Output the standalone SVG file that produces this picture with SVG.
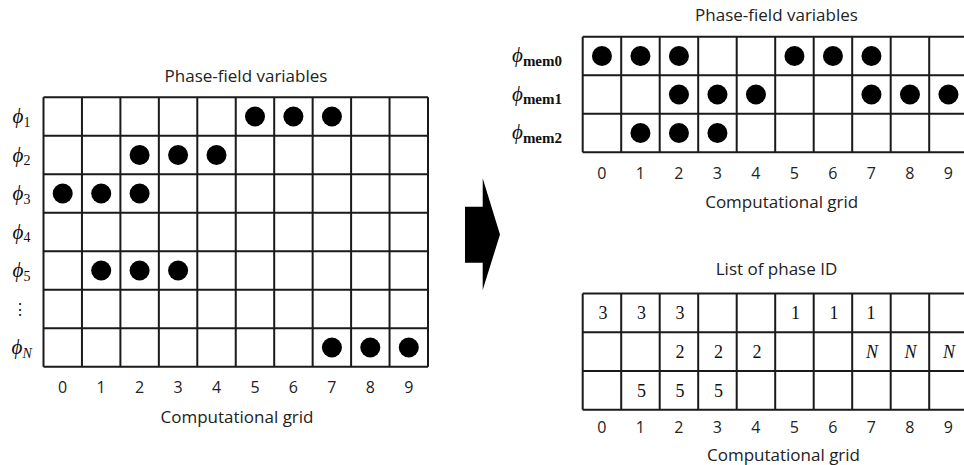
<svg xmlns="http://www.w3.org/2000/svg" width="964" height="465" viewBox="0 0 964 465">
<style>
.bg{fill:#fff}
.grid{fill:none;stroke:#1a1a1a;stroke-width:2}
.dot{fill:#000}
.lbl{font-family:"Open Sans","Liberation Sans",sans-serif;font-size:17px;fill:#222}
.num{font-family:"Open Sans","Liberation Sans",sans-serif;font-size:16px;fill:#222;text-anchor:middle}
.phi{font-family:"Liberation Serif","DejaVu Serif",serif;font-style:italic;font-size:21px;fill:#111}
.sub{font-family:"Liberation Serif","DejaVu Serif",serif;font-style:normal;font-size:14px}
.subb{font-family:"Liberation Serif","DejaVu Serif",serif;font-style:normal;font-weight:bold;font-size:15px}
.cell{font-family:"Liberation Serif","DejaVu Serif",serif;font-size:18px;fill:#111;text-anchor:middle}
.it{font-style:italic}
</style>
<rect class="bg" x="0" y="0" width="964" height="465"/>

<g id="left-grid">
<text class="lbl" x="246" y="81.5" text-anchor="middle">Phase-field variables</text>
<path class="grid" d="M43.5 97.3V366.8M81.95 97.3V366.8M120.4 97.3V366.8M158.85 97.3V366.8M197.3 97.3V366.8M235.75 97.3V366.8M274.2 97.3V366.8M312.65 97.3V366.8M351.1 97.3V366.8M389.55 97.3V366.8M428 97.3V366.8M43.5 97.3H428M43.5 135.8H428M43.5 174.3H428M43.5 212.8H428M43.5 251.3H428M43.5 289.8H428M43.5 328.3H428M43.5 366.8H428"/>
<text class="phi" x="12.5" y="123">ϕ<tspan class="sub" dy="3.5">1</tspan></text>
<text class="phi" x="12.5" y="161.5">ϕ<tspan class="sub" dy="3.5">2</tspan></text>
<text class="phi" x="12.5" y="200">ϕ<tspan class="sub" dy="3.5">3</tspan></text>
<text class="phi" x="12.5" y="238.5">ϕ<tspan class="sub" dy="3.5">4</tspan></text>
<text class="phi" x="12.5" y="277">ϕ<tspan class="sub" dy="3.5">5</tspan></text>
<text class="phi" x="20" y="315" text-anchor="middle" style="font-style:normal;font-size:16px">⋮</text>
<text class="phi" x="11.5" y="354">ϕ<tspan class="sub it" dy="3.5">N</tspan></text>
<circle class="dot" cx="255" cy="116.55" r="10"/><circle class="dot" cx="293.4" cy="116.55" r="10"/><circle class="dot" cx="331.9" cy="116.55" r="10"/>
<circle class="dot" cx="139.6" cy="155.05" r="10"/><circle class="dot" cx="178.1" cy="155.05" r="10"/><circle class="dot" cx="216.5" cy="155.05" r="10"/>
<circle class="dot" cx="62.7" cy="193.55" r="10"/><circle class="dot" cx="101.2" cy="193.55" r="10"/><circle class="dot" cx="139.6" cy="193.55" r="10"/>
<circle class="dot" cx="101.2" cy="270.55" r="10"/><circle class="dot" cx="139.6" cy="270.55" r="10"/><circle class="dot" cx="178.1" cy="270.55" r="10"/>
<circle class="dot" cx="331.9" cy="347.55" r="10"/><circle class="dot" cx="370.3" cy="347.55" r="10"/><circle class="dot" cx="408.8" cy="347.55" r="10"/>
<text class="num" x="62.7" y="392.5">0</text><text class="num" x="101.2" y="392.5">1</text><text class="num" x="139.6" y="392.5">2</text><text class="num" x="178.1" y="392.5">3</text><text class="num" x="216.5" y="392.5">4</text><text class="num" x="255" y="392.5">5</text><text class="num" x="293.4" y="392.5">6</text><text class="num" x="331.9" y="392.5">7</text><text class="num" x="370.3" y="392.5">8</text><text class="num" x="408.8" y="392.5">9</text>
<text class="lbl" x="237" y="422.7" text-anchor="middle">Computational grid</text>
</g>

<g id="right-top-grid">
<text class="lbl" x="776.5" y="20.7" text-anchor="middle">Phase-field variables</text>
<path class="grid" d="M582.7 36.7V152.2M621.2 36.7V152.2M659.7 36.7V152.2M698.2 36.7V152.2M736.7 36.7V152.2M775.2 36.7V152.2M813.7 36.7V152.2M852.2 36.7V152.2M890.7 36.7V152.2M929.2 36.7V152.2M967.7 36.7V152.2M582.7 36.7H970M582.7 75.2H970M582.7 113.7H970M582.7 152.2H970"/>
<text class="phi" x="512" y="62">ϕ<tspan class="subb" dy="3.5">mem0</tspan></text>
<text class="phi" x="512" y="100.5">ϕ<tspan class="subb" dy="3.5">mem1</tspan></text>
<text class="phi" x="512" y="139">ϕ<tspan class="subb" dy="3.5">mem2</tspan></text>
<circle class="dot" cx="601.95" cy="55.95" r="10"/><circle class="dot" cx="640.45" cy="55.95" r="10"/><circle class="dot" cx="678.95" cy="55.95" r="10"/><circle class="dot" cx="794.45" cy="55.95" r="10"/><circle class="dot" cx="832.95" cy="55.95" r="10"/><circle class="dot" cx="871.45" cy="55.95" r="10"/>
<circle class="dot" cx="678.95" cy="94.45" r="10"/><circle class="dot" cx="717.45" cy="94.45" r="10"/><circle class="dot" cx="755.95" cy="94.45" r="10"/><circle class="dot" cx="871.45" cy="94.45" r="10"/><circle class="dot" cx="909.95" cy="94.45" r="10"/><circle class="dot" cx="948.45" cy="94.45" r="10"/>
<circle class="dot" cx="640.45" cy="132.95" r="10"/><circle class="dot" cx="678.95" cy="132.95" r="10"/><circle class="dot" cx="717.45" cy="132.95" r="10"/>
<text class="num" x="601.95" y="179">0</text><text class="num" x="640.45" y="179">1</text><text class="num" x="678.95" y="179">2</text><text class="num" x="717.45" y="179">3</text><text class="num" x="755.95" y="179">4</text><text class="num" x="794.45" y="179">5</text><text class="num" x="832.95" y="179">6</text><text class="num" x="871.45" y="179">7</text><text class="num" x="909.95" y="179">8</text><text class="num" x="948.45" y="179">9</text>
<text class="lbl" x="781.7" y="207.5" text-anchor="middle">Computational grid</text>
</g>

<g id="right-bottom-grid">
<text class="lbl" x="776.5" y="275" text-anchor="middle">List of phase ID</text>
<path class="grid" d="M582.7 293.4V409.8M621.2 293.4V409.8M659.7 293.4V409.8M698.2 293.4V409.8M736.7 293.4V409.8M775.2 293.4V409.8M813.7 293.4V409.8M852.2 293.4V409.8M890.7 293.4V409.8M929.2 293.4V409.8M967.7 293.4V409.8M582.7 293.4H970M582.7 332.2H970M582.7 371H970M582.7 409.8H970"/>
<text class="cell" x="603" y="319">3</text><text class="cell" x="641.5" y="319">3</text><text class="cell" x="680" y="319">3</text><text class="cell" x="795.5" y="319">1</text><text class="cell" x="834" y="319">1</text><text class="cell" x="871" y="319">1</text>
<text class="cell" x="680" y="358">2</text><text class="cell" x="718.5" y="358">2</text><text class="cell" x="757" y="358">2</text><text class="cell it" x="872" y="358">N</text><text class="cell it" x="910.5" y="358">N</text><text class="cell it" x="949" y="358">N</text>
<text class="cell" x="641.5" y="397">5</text><text class="cell" x="680" y="397">5</text><text class="cell" x="718.5" y="397">5</text>
<text class="num" x="601.95" y="432.5">0</text><text class="num" x="640.45" y="432.5">1</text><text class="num" x="678.95" y="432.5">2</text><text class="num" x="717.45" y="432.5">3</text><text class="num" x="755.95" y="432.5">4</text><text class="num" x="794.45" y="432.5">5</text><text class="num" x="832.95" y="432.5">6</text><text class="num" x="871.45" y="432.5">7</text><text class="num" x="909.95" y="432.5">8</text><text class="num" x="948.45" y="432.5">9</text>
<text class="lbl" x="783.5" y="461" text-anchor="middle">Computational grid</text>
</g>

<g id="connectors">
<polygon fill="#000" points="465,206.7 482.7,206.7 482.7,178.3 500,234.5 482.7,290 482.7,262.7 465,262.7"/>
</g>
</svg>
